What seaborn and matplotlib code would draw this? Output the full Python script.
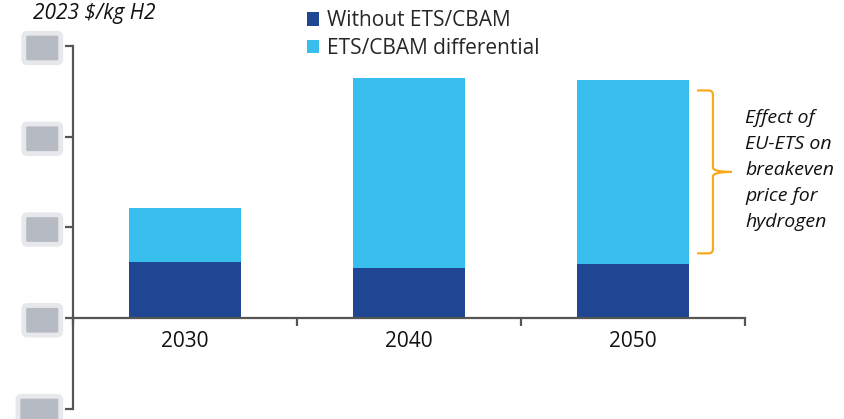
import matplotlib
matplotlib.use("Agg")
import matplotlib.pyplot as plt
import seaborn as sns
import pandas as pd
from matplotlib.patches import Patch, PathPatch
from matplotlib.path import Path

# Breakeven hydrogen price, 2023 $/kg H2
years = ["2030", "2040", "2050"]
without_ets = [0.62, 0.55, 0.595]
ets_differential = [0.59, 2.095, 2.025]
y_ticks = [-1, 0, 1, 2, 3]
series_names = ["Without ETS/CBAM", "ETS/CBAM differential"]
unit_label = "2023 $/kg H2"
brace_note = "Effect of\nEU-ETS on\nbreakeven\nprice for\nhydrogen"

DARK = "#1F4692"
LIGHT = "#37BEEC"
AXIS = "#555555"
ORANGE = "#F9A91E"

sns.set_theme(style="white")
plt.rcParams["font.family"] = ["Open Sans", "DejaVu Sans"]

df = pd.DataFrame({"year": years, "base": without_ets, "diff": ets_differential})
df["total"] = df["base"] + df["diff"]

fig = plt.figure(figsize=(8.44, 4.19), dpi=100)
ax = fig.add_axes([73 / 844, 1 - 409 / 419, 672 / 844, 363 / 419])

# stacked bars: full height in light blue, base part on top in dark blue
sns.barplot(data=df, x="year", y="total", color=LIGHT, width=0.5,
            saturation=1, linewidth=0, ax=ax)
sns.barplot(data=df, x="year", y="base", color=DARK, width=0.5,
            saturation=1, linewidth=0, ax=ax)

ax.set_xlim(-0.5, 2.5)
ax.set_ylim(min(y_ticks), max(y_ticks))
ax.set_xlabel("")
ax.set_ylabel("")

for side in ("top", "right"):
    ax.spines[side].set_visible(False)
ax.spines["bottom"].set_position(("data", 0))
for side in ("left", "bottom"):
    ax.spines[side].set_color(AXIS)
    ax.spines[side].set_linewidth(1.6)

# category labels at bar centres, tick marks at category boundaries
ax.set_xticks(range(len(years)))
ax.set_xticklabels(years)
ax.set_xticks([i - 0.5 for i in range(len(years) + 1)], minor=True)
ax.tick_params(axis="x", which="major", bottom=True, length=0, pad=9,
               labelsize=15, labelcolor="#111111")
ax.tick_params(axis="x", which="minor", bottom=True, direction="out",
               length=6, width=1.6, color=AXIS)

ax.set_yticks(y_ticks)
ax.set_yticklabels([f"{v:.1f}" for v in y_ticks])
ax.tick_params(axis="y", direction="out", length=6, width=1.6, color=AXIS,
               pad=7, labelsize=13, left=True)
for lab in ax.get_yticklabels():
    lab.set_color("#b6bbc3")
    lab.set_bbox(dict(boxstyle="round,pad=0.32,rounding_size=0.2",
                      facecolor="#b6bbc3", edgecolor="#e6e8eb",
                      linewidth=3.5))

# curly brace marking the ETS/CBAM differential of the last bar
i = len(years) - 1
y_top = df["total"].iloc[i] - 0.11
y_bot = df["base"].iloc[i] + 0.12
y_mid = (y_top + y_bot) / 2
x0, xv, xt = i + 0.286, i + 0.357, i + 0.44
rx, ry = 0.02, 0.05
verts = [
    (x0, y_top), (xv - rx, y_top), (xv, y_top), (xv, y_top - ry),
    (xv, y_mid + ry), (xv, y_mid), (xt, y_mid),
    (xv, y_mid), (xv, y_mid - ry),
    (xv, y_bot + ry), (xv, y_bot), (xv - rx, y_bot), (x0, y_bot),
]
codes = [
    Path.MOVETO, Path.LINETO, Path.CURVE3, Path.CURVE3,
    Path.LINETO, Path.CURVE3, Path.CURVE3,
    Path.CURVE3, Path.CURVE3,
    Path.LINETO, Path.CURVE3, Path.CURVE3, Path.LINETO,
]
ax.add_patch(PathPatch(Path(verts, codes), facecolor="none",
                       edgecolor=ORANGE, linewidth=1.6, clip_on=False))
ax.text(2.5, y_mid + 0.02, brace_note, ha="left", va="center", fontsize=14,
        style="italic", linespacing=1.56, color="#111111", clip_on=False)

fig.text(33 / 844, 1 - 14 / 419, unit_label, ha="left", va="center",
         fontsize=15, style="italic", color="#111111")

handles = [Patch(facecolor=DARK, edgecolor="none"),
           Patch(facecolor=LIGHT, edgecolor="none")]
fig.legend(handles, series_names, loc="upper left",
           bbox_to_anchor=(294 / 844, 1.005), frameon=False, fontsize=15,
           handlelength=0.6, handleheight=0.6, handletextpad=0.4,
           labelspacing=0.3, borderaxespad=0.2)

fig.savefig("out.png", dpi=100, facecolor="white")
